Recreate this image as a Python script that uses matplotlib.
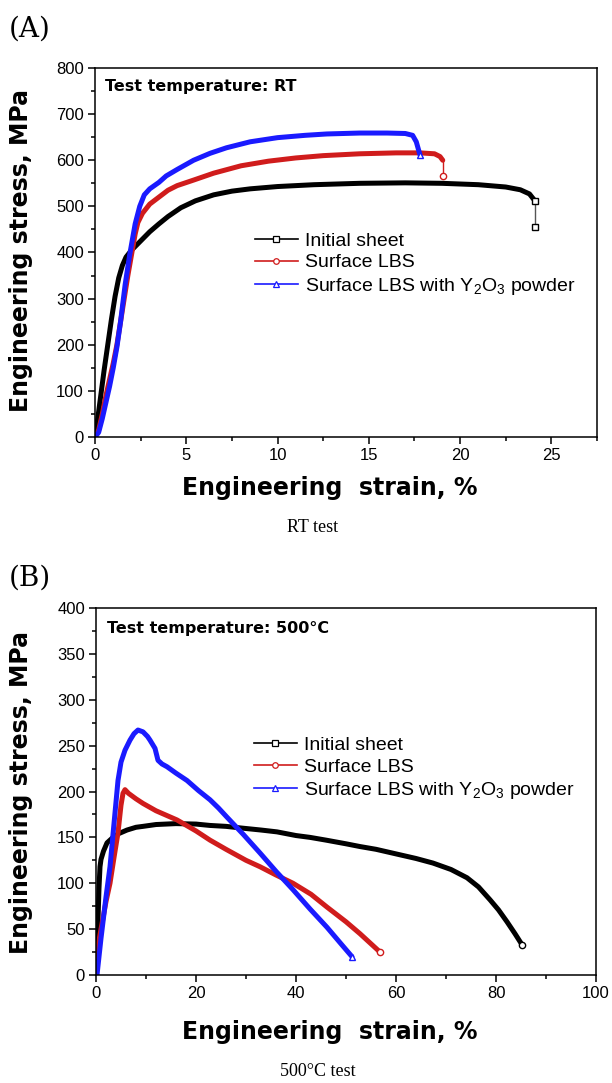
import matplotlib
matplotlib.use("Agg")
import matplotlib.pyplot as plt
from matplotlib.lines import Line2D
from matplotlib.ticker import MultipleLocator

plt.rcParams['font.family'] = ['Liberation Sans', 'DejaVu Sans']
plt.rcParams['mathtext.default'] = 'regular'

# ---------------- data: (A) RT test ----------------
rt_initial_strain = [0, 0.15, 0.3, 0.5, 0.7, 0.9, 1.1, 1.3, 1.5, 1.7, 2.0, 2.5, 3.0, 3.5, 4.0, 4.7,
                     5.5, 6.5, 7.5, 8.5, 10, 12, 14.5, 17, 19, 21, 22.5, 23.3, 23.8, 24.1]
rt_initial_stress = [0, 40, 85, 145, 200, 255, 305, 345, 372, 390, 405, 425, 445, 462, 478, 497,
                     512, 525, 533, 538, 543, 547, 550, 551, 550, 547, 542, 536, 527, 512]
rt_initial_drop_strain = [24.1, 24.1]
rt_initial_drop_stress = [512, 455]

rt_lbs_strain = [0, 0.2, 0.4, 0.6, 0.8, 1.0, 1.2, 1.4, 1.6, 1.8, 2.0, 2.2, 2.35, 2.6, 3.0, 3.5, 4.0,
                 4.5, 5.4, 6.5, 8.0, 9.5, 11, 12.5, 14.5, 16.5, 17.8, 18.6, 18.9, 19.05]
rt_lbs_stress = [0, 15, 50, 90, 125, 160, 200, 250, 300, 350, 395, 440, 465, 485, 505, 520, 535,
                 545, 557, 572, 588, 598, 605, 610, 614, 616, 616, 614, 608, 600]
rt_lbs_drop_strain = [19.05, 19.05]
rt_lbs_drop_stress = [600, 566]

rt_y2o3_strain = [0, 0.2, 0.4, 0.6, 0.8, 1.0, 1.2, 1.4, 1.65, 1.9, 2.2, 2.45, 2.7, 3.0, 3.5, 3.9,
                  4.5, 5.4, 6.3, 7.2, 8.5, 10, 11.5, 12.7, 14.5, 16, 17, 17.4, 17.6, 17.8]
rt_y2o3_stress = [0, 10, 40, 75, 110, 150, 195, 250, 330, 395, 462, 500, 525, 538, 552, 566,
                  580, 600, 615, 627, 640, 649, 654, 657, 659, 659, 658, 654, 640, 612]

# ---------------- data: (B) 500 C test ----------------
ht_initial_strain = [0, 0.2, 0.4, 0.6, 0.8, 1.0, 1.5, 2.2, 3.4, 4.5, 6.2, 8, 9.4, 12, 16, 20, 22.8,
                     26, 29.4, 33, 36.2, 40, 42.8, 46, 50, 52.8, 56, 60.8, 64, 67.4, 71, 74.2,
                     76.5, 78.8, 80.5, 82.2, 83.8, 85.2]
ht_initial_stress = [0, 30, 60, 95, 118, 126, 135, 144, 150, 154, 158, 161, 162, 164, 165, 164.5,
                     163, 162, 160, 158, 156, 152, 150, 147, 143, 140, 137, 131, 127, 122, 115,
                     106, 96, 82, 71, 58, 45, 33]

ht_lbs_strain = [0, 1.0, 2.0, 2.8, 3.6, 4.4, 5.0, 5.4, 5.8, 6.5, 8, 9.4, 12, 16.2, 20, 22.8, 26,
                 30, 32.8, 36, 39.4, 43, 46.2, 50, 52.8, 55, 56.8]
ht_lbs_stress = [20, 50, 80, 100, 128, 155, 185, 198, 202, 198, 192, 187, 179, 169, 157, 147, 137,
                 125, 118, 109, 100, 88, 74, 58, 45, 34, 25]

ht_y2o3_strain = [0.2, 1.0, 2.0, 2.8, 3.6, 4.4, 5.0, 5.8, 6.8, 7.6, 8.4, 9.4, 10.3, 10.8, 11.8,
                  12.4, 13.2, 14.2, 16, 18.2, 20.5, 22.8, 24.5, 26.2, 29.5, 32.8, 36, 39.4, 42.8,
                  46.2, 49, 51.2]
ht_y2o3_stress = [0, 40, 85, 118, 165, 212, 232, 245, 256, 263, 267, 265, 260, 256, 247, 234, 230,
                  227, 220, 212, 201, 191, 182, 172, 153, 133, 113, 93, 72, 52, 34, 20]

labels = ['Initial sheet', 'Surface LBS', 'Surface LBS with Y$_2$O$_3$ powder']
colors = ['#000000', '#d01c1c', '#1a1aff']
markers = ['s', 'o', '^']

fig = plt.figure(figsize=(6.12, 10.83), dpi=100)
W, H = 612.0, 1083.0
ax1 = fig.add_axes([95 / W, 1 - 437 / H, (597 - 95) / W, (437 - 68) / H])
ax2 = fig.add_axes([96 / W, 1 - 975 / H, (596 - 96) / W, (975 - 608) / H])

LW = 3.6


def end_marker(ax, x, y, c, m):
    ax.plot([x], [y], linestyle='none', marker=m, markersize=4.5, markerfacecolor='white',
            markeredgecolor=c, markeredgewidth=1.0, zorder=5)


# panel A
ax1.plot(rt_initial_strain, rt_initial_stress, color=colors[0], lw=LW, solid_capstyle='round')
ax1.plot(rt_initial_drop_strain, rt_initial_drop_stress, color='#555555', lw=1.0)
end_marker(ax1, rt_initial_strain[-1], rt_initial_stress[-1], colors[0], 's')
end_marker(ax1, rt_initial_drop_strain[-1], rt_initial_drop_stress[-1], colors[0], 's')

ax1.plot(rt_lbs_strain, rt_lbs_stress, color=colors[1], lw=LW, solid_capstyle='round')
ax1.plot(rt_lbs_drop_strain, rt_lbs_drop_stress, color=colors[1], lw=1.0)
end_marker(ax1, rt_lbs_drop_strain[-1], rt_lbs_drop_stress[-1], colors[1], 'o')

ax1.plot(rt_y2o3_strain, rt_y2o3_stress, color=colors[2], lw=LW, solid_capstyle='round')
end_marker(ax1, rt_y2o3_strain[-1], rt_y2o3_stress[-1], colors[2], '^')

# panel B
ax2.plot(ht_initial_strain, ht_initial_stress, color=colors[0], lw=LW, solid_capstyle='round')
end_marker(ax2, ht_initial_strain[-1], ht_initial_stress[-1], colors[0], 'o')
ax2.plot(ht_lbs_strain, ht_lbs_stress, color=colors[1], lw=LW, solid_capstyle='round')
end_marker(ax2, ht_lbs_strain[-1], ht_lbs_stress[-1], colors[1], 'o')
ax2.plot(ht_y2o3_strain, ht_y2o3_stress, color=colors[2], lw=LW, solid_capstyle='round')
end_marker(ax2, ht_y2o3_strain[-1], ht_y2o3_stress[-1], colors[2], '^')

ax1.set_xlim(0, 27.5)
ax1.set_ylim(0, 800)
ax1.xaxis.set_major_locator(MultipleLocator(5))
ax1.xaxis.set_minor_locator(MultipleLocator(2.5))
ax1.yaxis.set_major_locator(MultipleLocator(100))
ax1.yaxis.set_minor_locator(MultipleLocator(50))

ax2.set_xlim(0, 100)
ax2.set_ylim(0, 400)
ax2.xaxis.set_major_locator(MultipleLocator(20))
ax2.xaxis.set_minor_locator(MultipleLocator(10))
ax2.yaxis.set_major_locator(MultipleLocator(50))
ax2.yaxis.set_minor_locator(MultipleLocator(25))

for ax in (ax1, ax2):
    for sp in ax.spines.values():
        sp.set_linewidth(1.1)
    ax.tick_params(which='both', direction='out', top=False, right=False, width=1.1,
                   labelsize=12)
    ax.tick_params(which='major', length=5, pad=3)
    ax.tick_params(which='minor', length=3)

handles = [Line2D([0], [0], color=c, lw=1.2, marker=m, markersize=4, markerfacecolor='white',
                  markeredgecolor=c, markeredgewidth=0.9)
           for c, m in zip(colors, markers)]

ax1.legend(handles, labels, loc='upper left', bbox_to_anchor=((255 - 95) / 502, (437 - 232) / 369),
           frameon=False, fontsize=14, handlelength=2.2, handletextpad=0.35, labelspacing=0.22,
           borderpad=0, borderaxespad=0)
ax2.legend(handles, labels, loc='upper left', bbox_to_anchor=((254 - 96) / 500, (975 - 736) / 367),
           frameon=False, fontsize=14, handlelength=2.2, handletextpad=0.35, labelspacing=0.22,
           borderpad=0, borderaxespad=0)

ax1.text(0.02, 0.95, 'Test temperature: RT', transform=ax1.transAxes, fontsize=11.5,
         fontweight='bold', family='DejaVu Sans', ha='left', va='center')
ax2.text(0.022, 0.945, 'Test temperature: 500°C', transform=ax2.transAxes, fontsize=11.5,
         fontweight='bold', family='DejaVu Sans', ha='left', va='center')

lab_kw = dict(fontsize=17, fontweight='bold', family='DejaVu Sans')
fig.text(21 / W, 1 - 250 / H, 'Engineering stress, MPa', rotation=90, ha='center', va='center', **lab_kw)
fig.text(21 / W, 1 - 792 / H, 'Engineering stress, MPa', rotation=90, ha='center', va='center', **lab_kw)
fig.text(330 / W, 1 - 488 / H, 'Engineering  strain, %', ha='center', va='center', **lab_kw)
fig.text(330 / W, 1 - 1032 / H, 'Engineering  strain, %', ha='center', va='center', **lab_kw)

fig.text(313 / W, 1 - 528 / H, 'RT test', ha='center', va='center', fontsize=13,
         family='Liberation Serif')
fig.text(318 / W, 1 - 1072 / H, '500°C test', ha='center', va='center', fontsize=13,
         family='Liberation Serif')

fig.text(9 / W, 1 - 29 / H, '(A)', ha='left', va='center', fontsize=20, family='DejaVu Serif')
fig.text(9 / W, 1 - 578 / H, '(B)', ha='left', va='center', fontsize=20, family='DejaVu Serif')

fig.savefig('out.png', dpi=100)
